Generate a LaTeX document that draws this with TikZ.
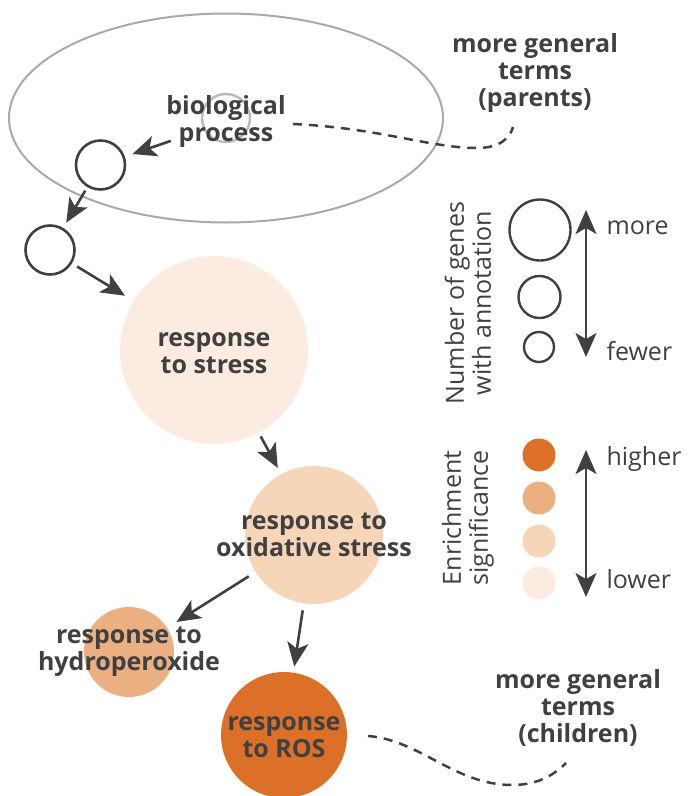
\documentclass[tikz,border=0pt]{standalone}
\usepackage{fontspec}
\setmainfont{Open Sans}
\usepackage{xcolor}
\usetikzlibrary{arrows.meta,shapes,positioning,calc}
\definecolor{sigfour}{RGB}{221,112,40}
\definecolor{sigthree}{RGB}{235,176,130}
\definecolor{sigtwo}{RGB}{246,213,185}
\definecolor{sigone}{RGB}{251,235,224}
\definecolor{textgrey}{RGB}{64,64,64}
\definecolor{setgrey}{RGB}{168,168,173}

\begin{document}
\begin{tikzpicture}[x=1pt,y=-1pt, >={Stealth[length=24pt,width=21pt,inset=6pt]}]
          \useasboundingbox (0,0) rectangle (692,796);
          \tikzstyle{every node}=[text=textgrey, font=\fontsize{25}{27}\selectfont, align=center]
          \tikzstyle{term}=[circle, inner sep=0pt, draw=none]
          \tikzstyle{open term}=[circle, inner sep=0pt, draw=textgrey, line width=2.6pt, minimum size=49pt]
          \tikzstyle{label text}=[font=\fontsize{25}{27}\selectfont\bfseries]
          \tikzstyle{dash line}=[draw=textgrey, line width=2.5pt, dash pattern=on 9pt off 7pt]

          % Upper level : parent terms
          \node[draw=setgrey, line width=2pt, ellipse, minimum width=434pt, minimum height=209pt, inner sep=0pt] (BPset) at (226,118) {};
          \node[circle, draw=setgrey!80, line width=2.4pt, minimum size=48pt, inner sep=0pt] (BP) at (226,118) {};
          \node[label text, inner sep=0pt] (BPtxt) at (226,122) {biological\\process};
          \node[open term] (P1) at (100.5,165) {};
          \node[open term] (P2) at (50,250) {};
          \node[label text] (PAR) at (535,73) {more general\\terms\\(parents)};

          % Lower level : enriched terms
          \node[term, fill=sigone, minimum size=188pt, label={[label text, yshift=-3pt]center:response\\to stress}] (RS) at (214,350) {};
          \node[term, fill=sigtwo, minimum size=138pt, label={[label text]center:response to\\oxidative stress}] (ROX) at (314,535) {};
          \node[term, fill=sigthree, minimum size=90pt, label={[label text]center:response to\\hydroperoxide}] (RHP) at (129,652) {};
          \node[term, fill=sigfour, minimum size=126pt, label={[label text, yshift=-2pt]center:response\\to ROS}] (ROS) at (284,735) {};
          \node[label text] (CHI) at (578,708) {more general\\terms\\(children)};

          \tikzstyle{every edge}=[->, line width=2.6pt, draw=textgrey]
          \path (BPtxt) edge [shorten <=-5pt, shorten >=8pt] (P1)
                (P1)    edge [shorten <=4pt, shorten >=6pt] (P2)
                (P2)    edge [shorten <=6pt, shorten >=10pt] (RS)
                (RS)    edge [shorten <=4pt, shorten >=7pt] (ROX)
                (ROX)   edge [shorten <=8pt, shorten >=11pt] (RHP)
                (ROX)   edge [shorten <=7pt, shorten >=6pt] (ROS);

          % dashed links to the rest of the graph
          \coordinate (pa) at (293,124);
          \coordinate (pb) at (513,127);
          \coordinate (ca) at (368,736);
          \coordinate (cb) at (566,763);
          \draw[dash line] (pa) .. controls (380,128) and (430,148) .. (477,148) .. controls (500,148) and (510,138) .. (pb);
          \draw[dash line] (ca) .. controls (420,740) and (455,785) .. (512,785) .. controls (540,785) and (556,773) .. (cb);

          % legend : size
          \node[rotate=90] (Nlab) at (468,303) {Number of genes\\with annotation};
          \node[open term, line width=2.4pt, minimum size=61pt] (N3) at (540,230) {};
          \node[open term, line width=2.4pt, minimum size=42pt] (N2) at (539.5,297) {};
          \node[open term, line width=2.4pt, minimum size=30pt] (N1) at (539,347) {};
          \node[anchor=west] (more) at (603,228) {more};
          \node[anchor=west] (fewer) at (603,351) {fewer};
          \coordinate (Ntop) at (586,210);
          \coordinate (Nbot) at (586,357);
          \path (Nbot) edge [<->] (Ntop);

          % legend : colour
          \node[rotate=90] (Elab) at (468,518) {Enrichment\\significance};
          \node[term, fill=sigfour, minimum size=33pt] (E4) at (539,455) {};
          \node[term, fill=sigthree, minimum size=33pt] (E3) at (539,498) {};
          \node[term, fill=sigtwo, minimum size=33pt] (E2) at (539,541) {};
          \node[term, fill=sigone, minimum size=33pt] (E1) at (539,583) {};
          \node[anchor=west] (higher) at (603,459) {higher};
          \node[anchor=west] (lower) at (603,579) {lower};
          \coordinate (Etop) at (586,450);
          \coordinate (Ebot) at (586,597);
          \path (Ebot) edge [<->] (Etop);
\end{tikzpicture}
\end{document}
